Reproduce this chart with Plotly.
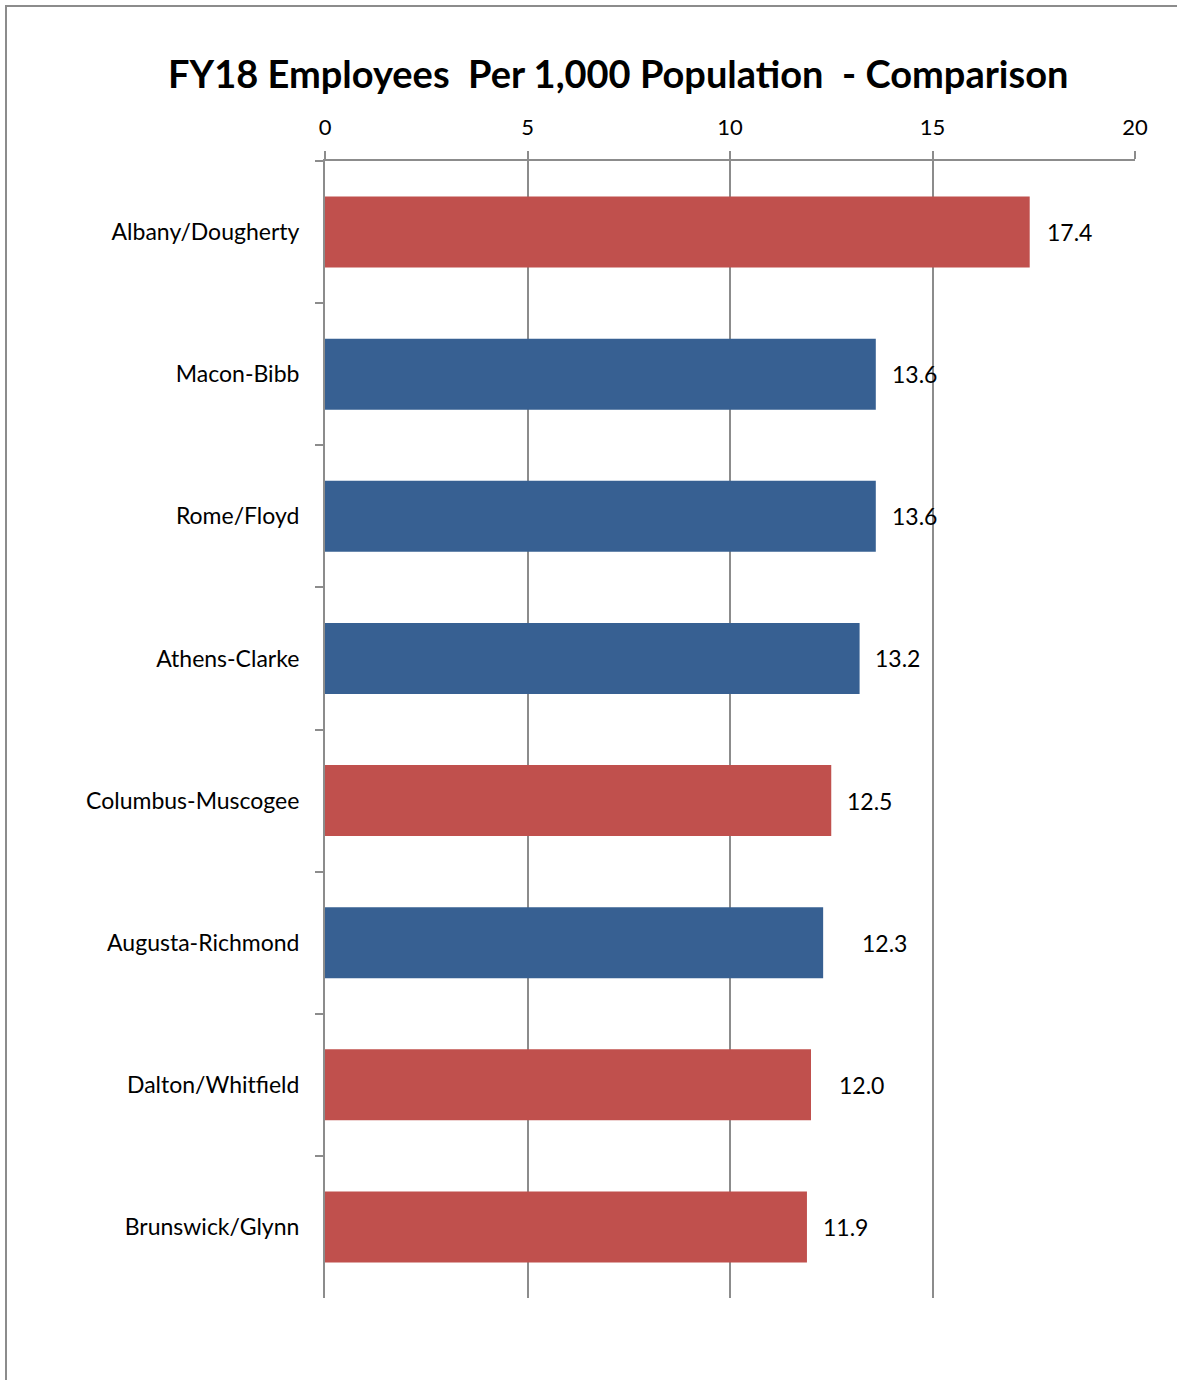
import plotly.graph_objects as go

categories = ["Albany/Dougherty", "Macon-Bibb", "Rome/Floyd", "Athens-Clarke",
              "Columbus-Muscogee", "Augusta-Richmond", "Dalton/Whitfield", "Brunswick/Glynn"]
values = [17.4, 13.6, 13.6, 13.2, 12.5, 12.3, 12.0, 11.9]
groups = ["red", "blue", "blue", "blue", "red", "blue", "red", "red"]
x_ticks = [0, 5, 10, 15, 20]

color_map = {"red": "#C0504D", "blue": "#376092"}
label_shift = [15, 14, 14, 13, 14, 37, 26, 14]

W, H = 1177, 1380
ml, mr, mt, mb = 325, 42, 161, 82
pw, ph = W - ml - mr, H - mt - mb
FONT = "Lato"
GRAY = "#8c8c8c"

fig = go.Figure()
fig.add_trace(go.Bar(
    y=categories, x=values, orientation="h",
    marker=dict(color=[color_map[g] for g in groups], line=dict(width=0)),
    width=0.5, hoverinfo="x+y", showlegend=False,
))

annotations = []
for c, v, s in zip(categories, values, label_shift):
    annotations.append(dict(x=v, y=c, xref="x", yref="y", text=f"{v:.1f}",
                            showarrow=False, xanchor="left", xshift=s,
                            font=dict(family=FONT, size=23, color="#000")))

annotations.append(dict(x=(618 - ml) / pw, y=(H - mb - 73) / ph, xref="paper", yref="paper",
                        text="<b>FY18 Employees  Per 1,000 Population  - Comparison</b>",
                        showarrow=False, xanchor="center", yanchor="middle",
                        font=dict(family=FONT, size=38, color="#000")))

fig.update_layout(
    width=W, height=H,
    margin=dict(l=ml, r=mr, t=mt, b=mb, pad=0),
    paper_bgcolor="white", plot_bgcolor="white",
    font=dict(family=FONT, size=22, color="#000"),
    bargap=0.5,
    annotations=annotations,
    xaxis=dict(side="top", range=[0, 20], tickvals=x_ticks, ticktext=[str(t) for t in x_ticks],
               showgrid=True, gridcolor=GRAY, gridwidth=2,
               showline=True, linecolor=GRAY, linewidth=2,
               ticks="outside", ticklen=8, tickcolor=GRAY, tickwidth=2,
               zeroline=False, ticklabelstandoff=7, fixedrange=True,
               tickfont=dict(family=FONT, size=22)),
    yaxis=dict(autorange="reversed", type="category",
               showline=True, linecolor=GRAY, linewidth=2,
               ticks="outside", ticklen=8, tickcolor=GRAY, tickwidth=2,
               tickson="boundaries", showgrid=False, zeroline=False,
               ticklabelstandoff=19, fixedrange=True,
               tickfont=dict(family=FONT, size=23)),
    shapes=[dict(type="rect", xref="paper", yref="paper",
                 x0=(6 - ml) / pw, x1=(W + 10 - ml) / pw,
                 y0=(H - mb - (H + 10)) / ph, y1=(H - mb - 6) / ph,
                 line=dict(color=GRAY, width=2), fillcolor="rgba(0,0,0,0)", layer="below")],
)

fig.write_html("out.html")
